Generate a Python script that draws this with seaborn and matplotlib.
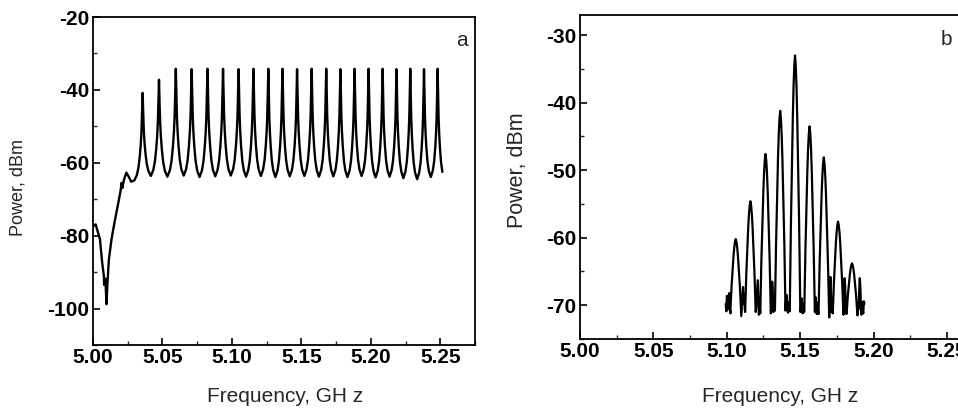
import seaborn as sns
import matplotlib.pyplot as plt
import pandas as pd
from matplotlib.ticker import AutoMinorLocator

# ---- panel a: comb spectrum ----
# start of the trace (read point by point)
a_low_freq = [5.0000, 5.0019, 5.0050, 5.0066, 5.0078, 5.0080, 5.0089, 5.0097, 5.0104,
              5.0114, 5.0133, 5.0157, 5.0180, 5.0200, 5.0205, 5.0211, 5.0223, 5.0240,
              5.0257, 5.0275]
a_low_db = [-77.4, -76.9, -81.0, -87.4, -91.0, -93.5, -91.8, -98.8, -92.9,
            -86.6, -81.0, -75.9, -71.4, -67.3, -65.5, -66.9, -64.6, -62.7,
            -63.8, -65.2]
# comb lines
a_peak_freq = [5.0357, 5.0475, 5.0596, 5.0710, 5.0824, 5.0936, 5.1048, 5.1155, 5.1262,
               5.1364, 5.1469, 5.1574, 5.1679, 5.1781, 5.1883, 5.1984, 5.2085, 5.2185,
               5.2284, 5.2383, 5.2481]
a_peak_db = [-40.8, -37.2, -34.2, -34.3, -34.2, -34.2, -34.3, -34.2, -34.2,
             -34.2, -34.3, -34.2, -34.2, -34.3, -34.2, -34.2, -34.2, -34.3,
             -34.2, -34.3, -34.2]
# trough before the first line, between lines, after the last line
a_trough_db = [-64.8, -63.6, -63.8, -63.5, -63.9, -63.7, -63.5, -63.8, -63.6, -63.9, -63.7,
               -63.6, -63.8, -63.7, -63.9, -63.6, -64.0, -63.8, -64.2, -64.5, -63.9, -64.3]
# line shape: distance from line (fraction of spacing) and height fraction
a_shape_pos = [0.0, 0.01, 0.02, 0.04, 0.07, 0.11, 0.17, 0.25, 0.35, 0.5]
a_shape_lvl = [1.0, 0.94, 0.86, 0.72, 0.56, 0.42, 0.28, 0.15, 0.06, 0.0]

# ---- panel b: modulated spectrum ----
b_peak_freq = [5.1061, 5.1161, 5.1264, 5.1364, 5.1465, 5.1564, 5.1661, 5.1758, 5.1853]
b_peak_db = [-60.2, -54.6, -47.6, -41.2, -33.0, -43.5, -48.1, -57.6, -63.8]
b_base_db = [-70.6, -71.0, -71.2, -70.8, -70.9, -71.0, -71.3, -71.2, -71.0]
b_shape_off = [0.0, 0.0005, 0.0010, 0.0015, 0.0020, 0.0028, 0.0036]
b_shape_lvl = [1.0, 0.96, 0.88, 0.76, 0.60, 0.34, 0.0]
# noise floor between the lines
b_floor_freq = [5.0993, 5.0997, 5.1001, 5.1005, 5.1009, 5.1013, 5.1017, 5.1021, 5.1025,
                5.1099, 5.1103, 5.1107, 5.1111, 5.1115, 5.1119, 5.1123,
                5.1199, 5.1203, 5.1207, 5.1211, 5.1215, 5.1219, 5.1223, 5.1227,
                5.1301, 5.1305, 5.1309, 5.1313, 5.1317, 5.1321, 5.1325,
                5.1401, 5.1405, 5.1409, 5.1413, 5.1417, 5.1421, 5.1425,
                5.1502, 5.1506, 5.1510, 5.1514, 5.1518, 5.1522, 5.1526,
                5.1601, 5.1605, 5.1609, 5.1613, 5.1617, 5.1621,
                5.1698, 5.1702, 5.1706, 5.1710, 5.1714, 5.1718,
                5.1795, 5.1799, 5.1803, 5.1807, 5.1811, 5.1815,
                5.1890, 5.1894, 5.1898, 5.1902, 5.1906, 5.1910, 5.1914, 5.1918,
                5.1922, 5.1926, 5.1930, 5.1934, 5.1938]
b_floor_db = [-69.8, -70.9, -68.6, -69.5, -70.6, -68.9, -68.2, -70.4, -71.2,
              -71.6, -70.1, -68.7, -67.3, -69.8, -68.4, -70.6,
              -70.8, -69.2, -67.5, -66.3, -68.9, -71.4, -69.6, -71.0,
              -71.2, -68.8, -66.5, -67.4, -71.0, -69.5, -70.6,
              -70.4, -68.9, -68.5, -70.2, -71.1, -69.6, -70.8,
              -71.0, -70.2, -69.0, -70.6, -71.2, -69.8, -70.9,
              -70.9, -68.8, -70.5, -71.3, -69.6, -70.8,
              -71.8, -68.0, -65.8, -68.6, -71.0, -69.2,
              -71.4, -68.2, -66.0, -67.4, -70.8, -71.3,
              -71.5, -69.8, -70.6, -68.0, -66.0, -67.2, -70.4, -71.4,
              -69.5, -70.8, -71.2, -69.4, -69.8]

# build trace a
fa, pa = list(a_low_freq), list(a_low_db)
n = len(a_peak_freq)
for i in range(n):
    f0, h = a_peak_freq[i], a_peak_db[i]
    dl = f0 - a_peak_freq[i - 1] if i > 0 else a_peak_freq[1] - a_peak_freq[0]
    dr = a_peak_freq[i + 1] - f0 if i < n - 1 else dl
    tl, tr = a_trough_db[i], a_trough_db[i + 1]
    for p, l in reversed(list(zip(a_shape_pos, a_shape_lvl))):
        fa.append(f0 - p * dl)
        pa.append(tl + (h - tl) * l)
    stop = 0.5 if i < n - 1 else 0.36
    for p, l in zip(a_shape_pos[1:], a_shape_lvl[1:]):
        if p < stop:
            fa.append(f0 + p * dr)
            pa.append(tr + (h - tr) * l)
df_a = pd.DataFrame({"freq": fa, "power": pa})

# build trace b
fb, pb = list(b_floor_freq), list(b_floor_db)
for f0, h, base in zip(b_peak_freq, b_peak_db, b_base_db):
    for o, l in zip(b_shape_off, b_shape_lvl):
        fb.append(f0 - o)
        pb.append(base + (h - base) * l)
        if o > 0:
            fb.append(f0 + o)
            pb.append(base + (h - base) * l)
df_b = pd.DataFrame({"freq": fb, "power": pb}).sort_values("freq")

sns.set_style("ticks", {"xtick.direction": "in", "ytick.direction": "in",
                        "axes.edgecolor": "black"})
plt.rcParams["font.family"] = ["Liberation Sans", "DejaVu Sans"]
plt.rcParams["axes.linewidth"] = 1.3

fig = plt.figure(figsize=(9.58, 4.12), dpi=100)
ax_a = fig.add_axes([0.0971, 0.1626, 0.3987, 0.796])
ax_b = fig.add_axes([0.6054, 0.1772, 0.3984, 0.7864])

sns.lineplot(data=df_a, x="freq", y="power", ax=ax_a, color="black", lw=1.7,
             sort=False, estimator=None)
sns.lineplot(data=df_b, x="freq", y="power", ax=ax_b, color="black", lw=1.6,
             sort=False, estimator=None)

x_ticks = [5.00, 5.05, 5.10, 5.15, 5.20, 5.25]
a_yticks = [-20, -40, -60, -80, -100]
b_yticks = [-30, -40, -50, -60, -70]

for ax, yt, xl, yl in [(ax_a, a_yticks, (5.0, 5.275), (-110, -20)),
                       (ax_b, b_yticks, (5.0, 5.26), (-75, -27))]:
    ax.set_xlim(*xl)
    ax.set_ylim(*yl)
    ax.set_xticks(x_ticks, labels=[f"{v:.2f}" for v in x_ticks],
                  fontweight="bold", fontsize=15)
    ax.set_yticks(yt, labels=[str(v) for v in yt], fontweight="bold", fontsize=15)
    ax.xaxis.set_minor_locator(AutoMinorLocator(2))
    ax.yaxis.set_minor_locator(AutoMinorLocator(2))
    ax.tick_params(which="major", length=5, width=1.2, pad=2.5, colors="black")
    ax.tick_params(which="minor", length=3, width=1.0)
    for s in ax.spines.values():
        s.set_color("black")

ax_b.spines["right"].set_visible(False)

ax_a.set_xlabel("Frequency, GH z", fontsize=15)
ax_a.set_ylabel("Power, dBm", fontsize=13)
ax_a.xaxis.set_label_coords(0.503, -0.128)
ax_a.yaxis.set_label_coords(-0.174, 0.48)
ax_a.text(0.966, 0.93, "a", transform=ax_a.transAxes, fontsize=15,
          ha="center", va="center")

ax_b.set_xlabel("Frequency, GH z", fontsize=15)
ax_b.set_ylabel("Power, dBm", fontsize=15.5)
ax_b.xaxis.set_label_coords(0.524, -0.147)
ax_b.yaxis.set_label_coords(-0.136, 0.52)
ax_b.text(0.959, 0.923, "b", transform=ax_b.transAxes, fontsize=15,
          ha="center", va="center")

fig.savefig("out.png", dpi=100)
